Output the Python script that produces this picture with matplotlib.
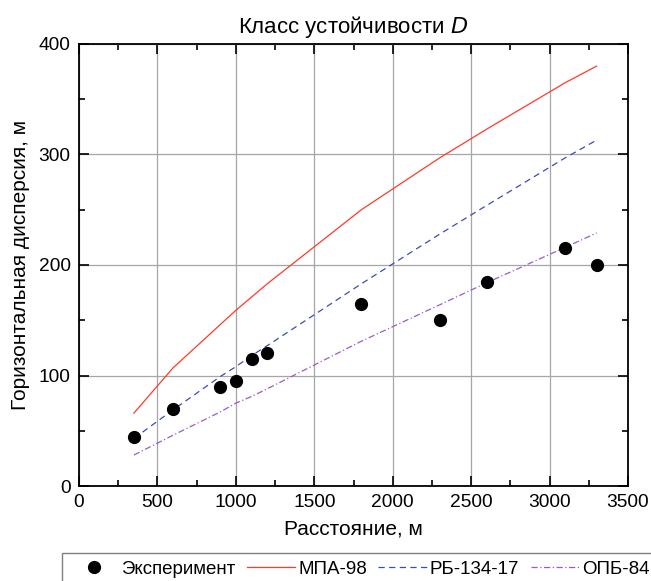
import matplotlib
matplotlib.use('Agg')
import matplotlib.pyplot as plt
from matplotlib.ticker import MultipleLocator

plt.rcParams['font.family'] = ['Liberation Sans', 'DejaVu Sans']

# Экспериментальные данные
rasst_exp = [350, 600, 900, 1000, 1100, 1200, 1800, 2300, 2600, 3100, 3300]
disp_exp = [44, 70, 90, 95, 115, 120, 165, 150, 185, 215, 200]

# Расчётные модели
rasst_mod = [350, 600, 900, 1000, 1100, 1200, 1800, 2300, 2600, 3100, 3300]
mpa98 = [66, 107, 146, 159, 171, 183, 250, 297, 323, 365, 380]
rb134 = [43, 69, 99, 108, 118, 127, 183, 228, 254, 297, 313]
opb84 = [28, 46, 67, 75, 81, 88, 131, 164, 184, 216, 229]

fig = plt.figure(figsize=(6.51, 5.81), dpi=100)
ax = fig.add_axes([0.1214, 0.1635, 0.8433, 0.7608])

ax.grid(True, color='#a6a6a6', linewidth=0.9)
ax.set_axisbelow(True)

ax.plot(rasst_exp, disp_exp, 'o', color='black', markersize=8.5, label='Эксперимент', zorder=5)
ax.plot(rasst_mod, mpa98, '-', color='#ff3a2a', linewidth=0.9, label='МПА-98')
ax.plot(rasst_mod, rb134, color='#3a4db5', linewidth=0.9, dashes=(5, 3.5), label='РБ-134-17')
ax.plot(rasst_mod, opb84, color='#9a5cc6', linewidth=0.9, dashes=(5, 2, 1, 2), label='ОПБ-84')

ax.set_xlim(0, 3500)
ax.set_ylim(0, 400)
ax.xaxis.set_major_locator(MultipleLocator(500))
ax.xaxis.set_minor_locator(MultipleLocator(250))
ax.yaxis.set_major_locator(MultipleLocator(100))
ax.yaxis.set_minor_locator(MultipleLocator(50))
ax.tick_params(which='both', direction='in', top=True, right=True, width=1.2,
               labelsize=13.8, pad=6)
ax.tick_params(which='major', length=7)
ax.tick_params(which='minor', length=4)
for s in ax.spines.values():
    s.set_linewidth(1.3)

ax.set_xlabel('Расстояние, м', fontsize=15, labelpad=6)
ax.set_ylabel('Горизонтальная дисперсия, м', fontsize=15, labelpad=6)
ax.set_title('Класс устойчивости $\\mathit{D}$', fontsize=16, pad=8)

leg = fig.legend(loc='upper left', bbox_to_anchor=(0.0952, 0.048), ncol=4, fontsize=13.5,
                 frameon=True, fancybox=False, edgecolor='#606060', handlelength=2.6,
                 columnspacing=0.6, handletextpad=0.15, borderpad=0.4, borderaxespad=0)
leg.get_frame().set_linewidth(1.0)

fig.savefig('out.png', dpi=100)
